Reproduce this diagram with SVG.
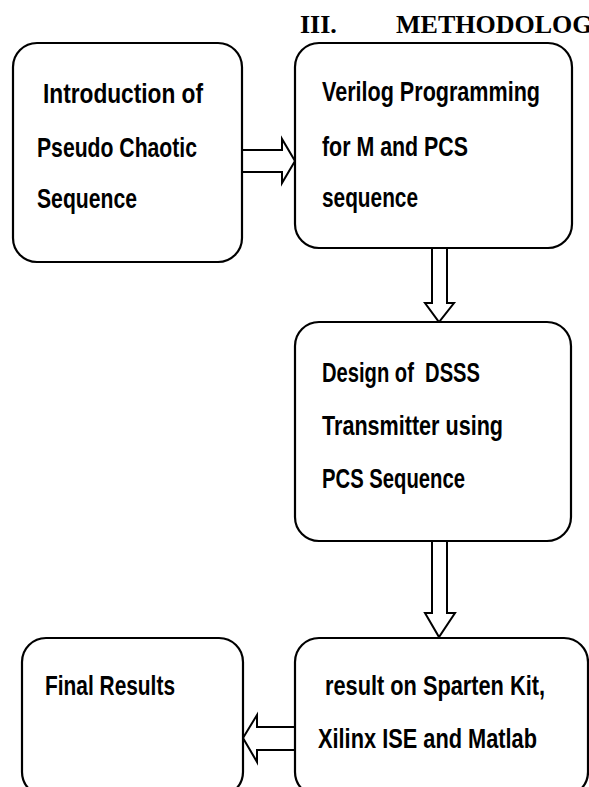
<svg xmlns="http://www.w3.org/2000/svg" width="589" height="787" viewBox="0 0 589 787">
<style>
.box{fill:#fff;stroke:#000;stroke-width:2.2}
.arr{fill:#fff;stroke:#000;stroke-width:2;stroke-linejoin:miter}
.t{font-family:"Liberation Sans",Arial,sans-serif;font-weight:bold;font-size:28px;fill:#000;white-space:pre}
.h{font-family:"Liberation Serif","Times New Roman",serif;font-weight:bold;font-size:26px;fill:#000}
</style>
<rect width="589" height="787" fill="#fff"/>
<g id="heading">
<text class="h" x="300" y="33">III.</text>
<text class="h" x="396" y="33">METHODOLOG</text>
</g>
<g id="connectors">
<path class="arr" d="M243,150 H282 V139 L295,161 L282,183 V172 H243"/>
<path class="arr" d="M432,248 V303 H425 L439,322 L454,303 H447 V248"/>
<path class="arr" d="M432,541 V613 H425 L439,637 L455,613 H447 V541"/>
<path class="arr" d="M295,727 H257 V715 L243,738 L257,762 V750 H295"/>
</g>
<g id="n1">
<rect class="box" x="13" y="43" width="229" height="219" rx="24"/>
<text class="t" x="43" y="103" textLength="160" lengthAdjust="spacingAndGlyphs">Introduction of</text>
<text class="t" x="37" y="157" textLength="160" lengthAdjust="spacingAndGlyphs">Pseudo Chaotic</text>
<text class="t" x="37" y="208" textLength="100" lengthAdjust="spacingAndGlyphs">Sequence</text>
</g>
<g id="n2">
<rect class="box" x="295" y="43" width="277" height="205" rx="24"/>
<text class="t" x="322" y="101" textLength="218" lengthAdjust="spacingAndGlyphs">Verilog Programming</text>
<text class="t" x="322" y="156" textLength="146" lengthAdjust="spacingAndGlyphs">for M and PCS</text>
<text class="t" x="322" y="207" textLength="96" lengthAdjust="spacingAndGlyphs">sequence</text>
</g>
<g id="n3">
<rect class="box" x="295" y="322" width="276" height="219" rx="24"/>
<text class="t" x="322" y="382" textLength="158" lengthAdjust="spacingAndGlyphs">Design of  DSSS</text>
<text class="t" x="322" y="435" textLength="181" lengthAdjust="spacingAndGlyphs">Transmitter using</text>
<text class="t" x="322" y="488" textLength="143" lengthAdjust="spacingAndGlyphs">PCS Sequence</text>
</g>
<g id="n4">
<rect class="box" x="295" y="638" width="293" height="158" rx="24"/>
<text class="t" x="325" y="695" textLength="220" lengthAdjust="spacingAndGlyphs">result on Sparten Kit,</text>
<text class="t" x="318" y="748" textLength="219" lengthAdjust="spacingAndGlyphs">Xilinx ISE and Matlab</text>
</g>
<g id="n5">
<rect class="box" x="22" y="638" width="221" height="158" rx="24"/>
<text class="t" x="45" y="695" textLength="130" lengthAdjust="spacingAndGlyphs">Final Results</text>
</g>
</svg>
